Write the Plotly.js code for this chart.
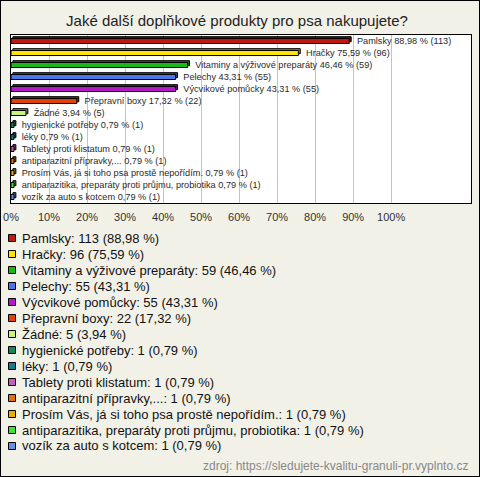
<!DOCTYPE html>
<html><head><meta charset="utf-8">
<script src="https://cdn.plot.ly/plotly-3.0.1.min.js"></script>
<style>html,body{margin:0;padding:0;background:#f2f1e8;}
#chart{width:478px;height:475px;border:1px solid #000;}</style>
</head><body><div id="chart"></div><script>
const categories = ['Pamlsky','Hračky','Vitaminy a výživové preparáty','Pelechy','Výcvikové pomůcky','Přepravní boxy','Žádné','hygienické potřeby','léky','Tablety proti klistatum','antiparazitní přípravky,...','Prosím Vás, já si toho psa prostě nepořídím.','antiparazitika, preparáty proti průjmu, probiotika','vozík za auto s kotcem'];
const counts = [113,96,59,55,55,22,5,1,1,1,1,1,1,1];
const percents = [88.98,75.59,46.46,43.31,43.31,17.32,3.94,0.79,0.79,0.79,0.79,0.79,0.79,0.79];
const colors = ['#c0180c','#ffe400','#18b818','#4a76e8','#b418c8','#e0400c','#c8f47c','#108858','#187c8c','#c060c0','#e07010','#e8b000','#40e040','#6890e0'];
const tickValues = [0,10,20,30,40,50,60,70,80,90,100];
const tickLabels = ['0%','10%','20%','30%','40%','50%','60%','70%','80%','90%','100%'];
const chartTitle = 'Jaké další doplňkové produkty pro psa nakupujete?';
const sourceText = 'zdroj: https://sledujete-kvalitu-granuli-pr.vyplnto.cz';

const FONT = 'Liberation Sans, Arial, sans-serif';
const fmt = v => v.toFixed(2).replace('.', ',');
const barTexts = categories.map((c,i) => '\u00a0\u00a0\u00a0' + c + ' ' + fmt(percents[i]) + ' % (' + counts[i] + ')');
const legendTexts = categories.map((c,i) => c + ': ' + counts[i] + ' (' + fmt(percents[i]) + ' %)');
const darken = (hex, f) => {
  const n = parseInt(hex.slice(1), 16);
  const r = Math.round(((n >> 16) & 255) * f), g = Math.round(((n >> 8) & 255) * f), b = Math.round((n & 255) * f);
  return 'rgb(' + r + ',' + g + ',' + b + ')';
};

const W = 478, H = 475, ML = 10, MR = 8, MT = 34, MB = 273;
const PW = W - ML - MR, PH = H - MT - MB;
const px = x => (x - ML) / PW;
const py = y => (H - MB - y) / PH;

const BW = 0.42;
const depth = {
  type: 'bar', orientation: 'h',
  y: categories, x: percents, base: 0.5,
  width: BW, offset: -BW/2 - 0.15,
  marker: {color: colors.map(c => darken(c, 0.6)), line: {color: '#000', width: 1}},
  hoverinfo: 'none', showlegend: false
};
const trace = {
  type: 'bar', orientation: 'h',
  y: categories, x: percents,
  width: BW, offset: -BW/2,
  marker: {color: colors, line: {color: '#000', width: 1}},
  text: barTexts, textposition: 'outside', constraintext: 'none', cliponaxis: false,
  textfont: {family: FONT, size: 9.2, color: '#2a2a2a'},
  hoverinfo: 'none', showlegend: false
};

const shapes = [], annotations = [];
categories.forEach((c,i) => {
  const cy = 237 + 16*i;
  shapes.push({type:'rect', xref:'paper', yref:'paper', x0:px(7.5), x1:px(14.5), y0:py(cy+3.5), y1:py(cy-3.5),
    fillcolor: colors[i], line:{color:'#000', width:1}});
  annotations.push({xref:'paper', yref:'paper', x:px(18.5), y:py(cy), xanchor:'left', yanchor:'middle',
    text: legendTexts[i], showarrow:false, font:{family:FONT, size:13, color:'#111'}});
});
annotations.push({xref:'paper', yref:'paper', x:px(469), y:py(465), xanchor:'right', yanchor:'middle',
  text: sourceText, showarrow:false, font:{family:FONT, size:12, color:'#888'}});

const layout = {
  width: W, height: H,
  margin: {l: ML, r: MR, t: MT, b: MB, pad: 0},
  paper_bgcolor: '#f2f1e8', plot_bgcolor: '#ffffff',
  barmode: 'overlay',
  title: {text: chartTitle, font: {family: FONT, size: 15, color: '#222'},
    x: 0.5 - 3/W, xanchor: 'center', y: 1 - 20/H, yanchor: 'middle'},
  xaxis: {range: [0, 121], tickvals: tickValues, ticktext: tickLabels, showgrid: true, gridcolor: '#c4c4c4', gridwidth: 1,
    zeroline: false, showline: true, linecolor: '#000', linewidth: 1, mirror: true, ticks: '', ticklabelstandoff: 4,
    tickfont: {family: FONT, size: 11, color: '#333'}, fixedrange: true},
  yaxis: {type: 'category', autorange: 'reversed', showticklabels: false, showgrid: false, zeroline: false,
    showline: true, linecolor: '#000', linewidth: 1, mirror: true, ticks: '', fixedrange: true},
  shapes: shapes, annotations: annotations, showlegend: false
};
Plotly.newPlot('chart', [depth, trace], layout, {displayModeBar: false, staticPlot: true});
</script></body></html>
